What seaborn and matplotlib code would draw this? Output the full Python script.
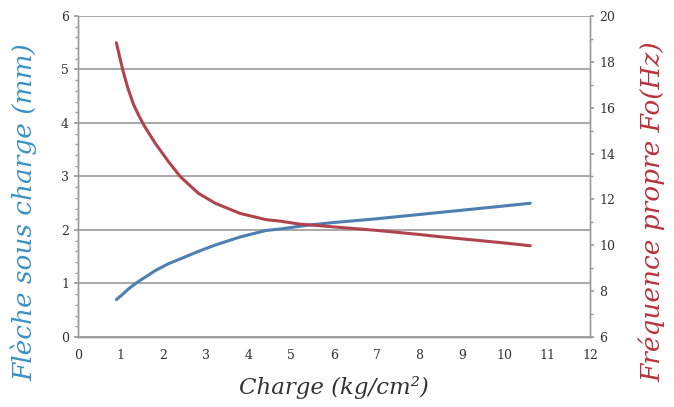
import matplotlib.pyplot as plt
import pandas as pd
import seaborn as sns
from matplotlib.ticker import MultipleLocator

# Valeurs
charge = [0.9, 1.05, 1.17, 1.3, 1.42, 1.54, 1.81, 2.12, 2.4, 2.82, 3.22, 3.8, 4.4, 4.75, 5.2, 5.5, 6.0, 7.0, 8.0, 8.5, 9.0, 10.0, 10.6]
fleche = [0.70, 0.80, 0.89, 0.97, 1.04, 1.10, 1.24, 1.37, 1.46, 1.60, 1.72, 1.87, 1.99, 2.02, 2.07, 2.10, 2.14, 2.21, 2.29, 2.33, 2.37, 2.45, 2.50]
frequence = [18.83, 17.64, 16.85, 16.15, 15.68, 15.25, 14.45, 13.65, 12.99, 12.27, 11.83, 11.39, 11.12, 11.05, 10.92, 10.88, 10.8, 10.65, 10.47, 10.37, 10.28, 10.1, 9.98]

df = pd.DataFrame({"charge": charge, "fleche": fleche, "frequence": frequence})

sns.set_theme(style="white")
plt.rcParams["font.family"] = ["DejaVu Serif"]

bleu = "#4f7fb0"
rouge = "#b0444e"
grille = "#9a9a9a"

fig = plt.figure(figsize=(6.74, 4.07), dpi=100)
ax = fig.add_axes([0.1157, 0.172, 0.7597, 0.7887])
ax2 = ax.twinx()

sns.lineplot(data=df, x="charge", y="fleche", ax=ax, color=bleu, linewidth=2.2)
sns.lineplot(data=df, x="charge", y="frequence", ax=ax2, color=rouge, linewidth=2.2)

ax.set_xlim(0, 12)
ax.set_ylim(0, 6)
ax2.set_ylim(6, 20)

ax.xaxis.set_major_locator(MultipleLocator(1))
ax.xaxis.set_minor_locator(MultipleLocator(0.5))
ax.yaxis.set_major_locator(MultipleLocator(1))
ax.yaxis.set_minor_locator(MultipleLocator(0.2))
ax2.yaxis.set_major_locator(MultipleLocator(2))
ax2.yaxis.set_minor_locator(MultipleLocator(1))

ax.yaxis.grid(True, color=grille, linewidth=1.2)
ax.set_axisbelow(True)

for a in (ax, ax2):
    for side in ("left", "right", "bottom"):
        a.spines[side].set_color(grille)
        a.spines[side].set_linewidth(1.0)
    a.spines["top"].set_visible(False)

ax.tick_params(axis="both", which="major", length=3, color=grille, labelsize=9, labelcolor="#333333")
ax.tick_params(axis="both", which="minor", length=2, color=grille)
ax2.tick_params(axis="y", which="major", length=3, color=grille, labelsize=9, labelcolor="#333333")
ax2.tick_params(axis="y", which="minor", length=2, color=grille)
ax.tick_params(axis="x", pad=6)

ax.set_xlabel("Charge (kg/cm²)", fontsize=16.5, style="italic", color="#333333", labelpad=10)
ax.set_ylabel("Flèche sous charge (mm)", fontsize=19, style="italic", color="#3a92c4")
ax2.set_ylabel("Fréquence propre Fo(Hz)", fontsize=19, style="italic", color="#b8323c")
ax.yaxis.set_label_coords(-0.08, 0.39)
ax2.yaxis.set_label_coords(1.095, 0.39)

fig.savefig("out.png", dpi=100)
